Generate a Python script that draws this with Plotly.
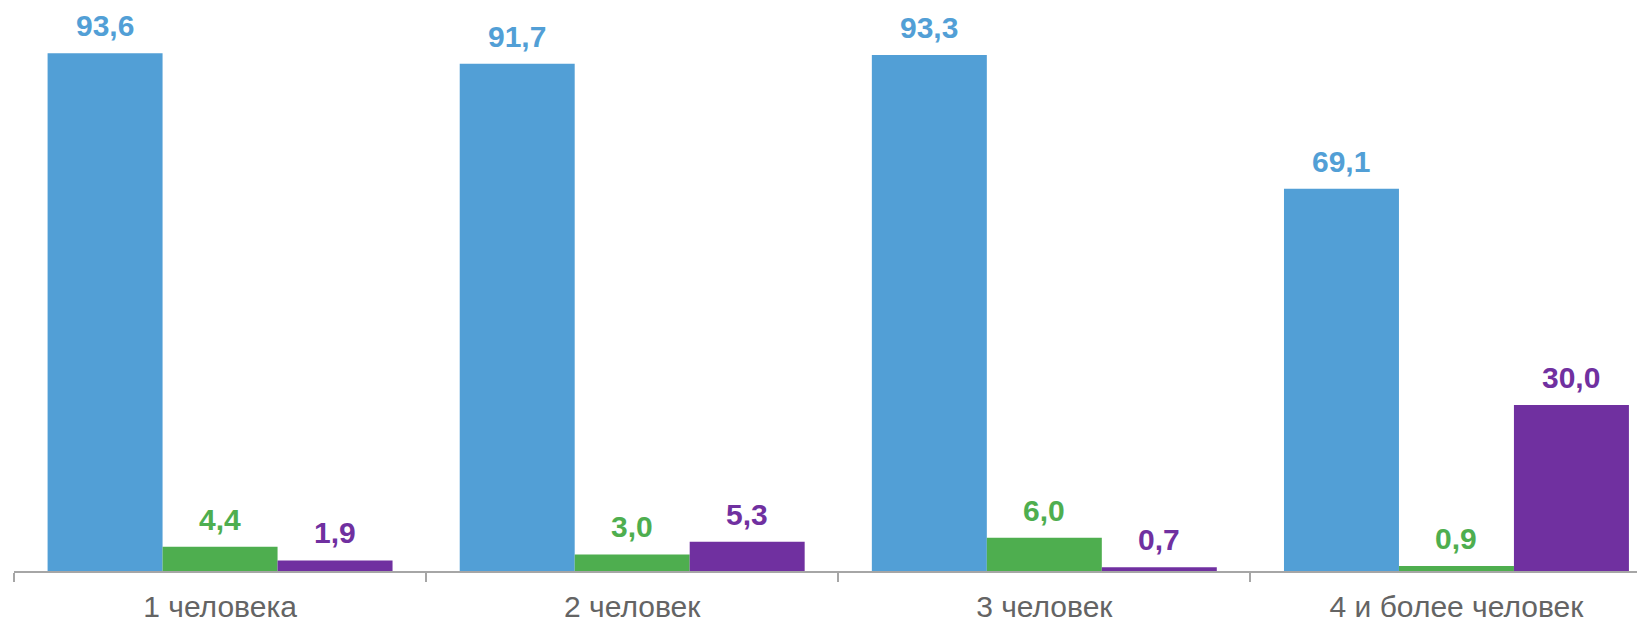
import plotly.graph_objects as go

categories = ["1 человека", "2 человек", "3 человек", "4 и более человек"]
series_a = [93.6, 91.7, 93.3, 69.1]
series_b = [4.4, 3.0, 6.0, 0.9]
series_c = [1.9, 5.3, 0.7, 30.0]
labels_a = ["93,6", "91,7", "93,3", "69,1"]
labels_b = ["4,4", "3,0", "6,0", "0,9"]
labels_c = ["1,9", "5,3", "0,7", "30,0"]

colors = ["#529FD6", "#4EAE4F", "#7030A0"]
series = [series_a, series_b, series_c]
labels = [labels_a, labels_b, labels_c]

bargap = 0.163
bw = (1 - bargap) / 3
offsets = [-bw, 0, bw]

fig = go.Figure()
for vals, col in zip(series, colors):
    fig.add_trace(go.Bar(x=categories, y=vals, marker=dict(color=col, line=dict(width=0)),
                         hoverinfo="skip"))

annotations = []
for vals, labs, col, off in zip(series, labels, colors, offsets):
    for i, (v, lab) in enumerate(zip(vals, labs)):
        annotations.append(dict(
            x=i + off, y=v, xref="x", yref="y", text=lab, showarrow=False,
            yanchor="bottom", yshift=9,
            font=dict(family="Liberation Sans, Arial, sans-serif", size=30, color=col, weight="bold"),
        ))

# page body has an 8px default margin, so the figure is sized to fill the rest of the window
fig.update_layout(
    width=1637, height=615,
    margin=dict(l=6, r=0, t=0, b=50),
    paper_bgcolor="white", plot_bgcolor="white",
    barmode="group", bargap=bargap, bargroupgap=0,
    showlegend=False,
    annotations=annotations,
    xaxis=dict(
        type="category", range=[-0.5, 3.4575],
        showline=True, linecolor="#A6A6A6", linewidth=1.5,
        ticks="outside", tickson="boundaries", ticklen=9, tickcolor="#A6A6A6", tickwidth=1.5,
        ticklabelstandoff=8,
        tickfont=dict(family="Liberation Sans, Arial, sans-serif", size=30, color="#646464"),
        showgrid=False, zeroline=False,
    ),
    yaxis=dict(range=[0, 101.8], visible=False, showgrid=False, zeroline=False),
)

fig.write_html("out.html")
